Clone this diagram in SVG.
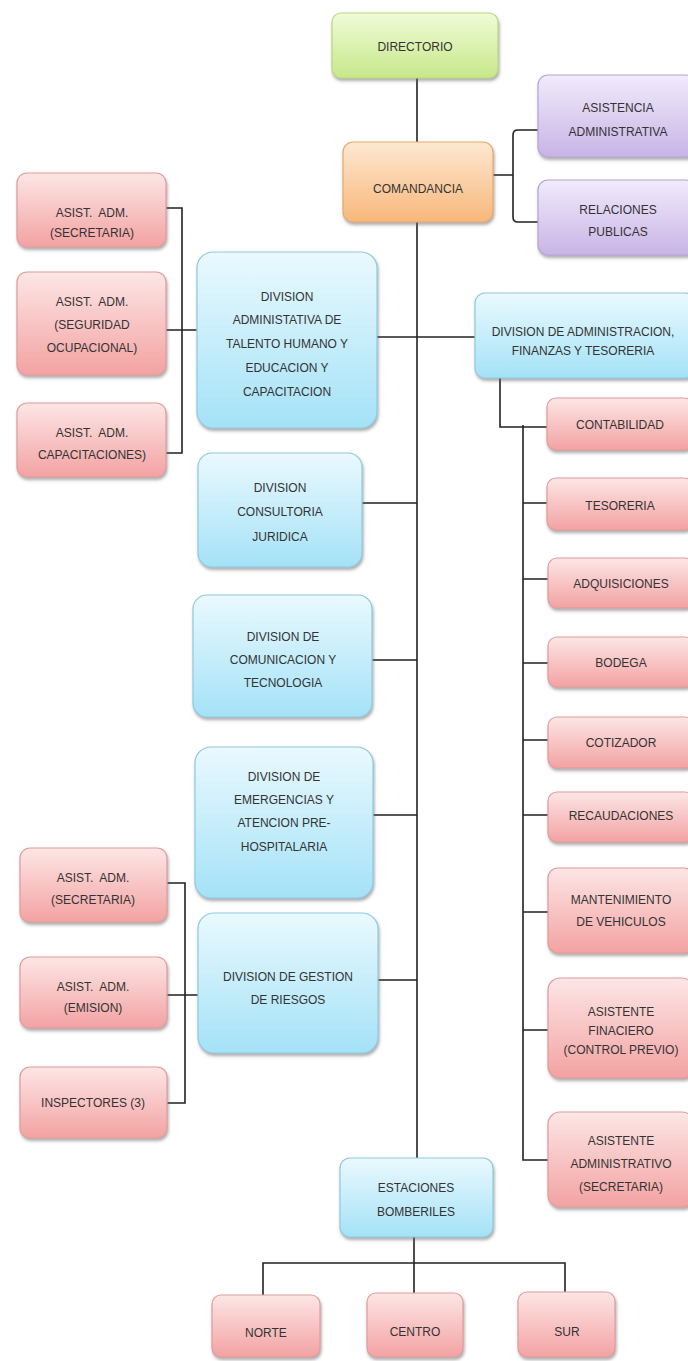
<svg xmlns="http://www.w3.org/2000/svg" width="688" height="1361" viewBox="0 0 688 1361">
<defs>
<linearGradient id="gGreen" x1="0" y1="0" x2="0" y2="1"><stop offset="0" stop-color="#f1fbd8"/><stop offset="1" stop-color="#c6e88a"/></linearGradient>
<linearGradient id="gOrange" x1="0" y1="0" x2="0" y2="1"><stop offset="0" stop-color="#fde8d2"/><stop offset="1" stop-color="#f8b77a"/></linearGradient>
<linearGradient id="gPurple" x1="0" y1="0" x2="0" y2="1"><stop offset="0" stop-color="#f1ebfb"/><stop offset="1" stop-color="#c8b4e6"/></linearGradient>
<linearGradient id="gBlue" x1="0" y1="0" x2="0" y2="1"><stop offset="0" stop-color="#eaf9fe"/><stop offset="1" stop-color="#a4e2f7"/></linearGradient>
<linearGradient id="gPink" x1="0" y1="0" x2="0" y2="1"><stop offset="0" stop-color="#fde6e6"/><stop offset="1" stop-color="#f3a2a2"/></linearGradient>
<filter id="sh" x="-10%" y="-10%" width="125%" height="130%"><feDropShadow dx="1" dy="2.5" stdDeviation="1.5" flood-color="#666" flood-opacity="0.55"/></filter>
</defs>
<style>
.b{filter:url(#sh);stroke-width:1.2}
.green{fill:url(#gGreen);stroke:#b8d87c}
.orange{fill:url(#gOrange);stroke:#e6a970}
.purple{fill:url(#gPurple);stroke:#b6a4d6}
.blue{fill:url(#gBlue);stroke:#8fcadf}
.pink{fill:url(#gPink);stroke:#e29c9c}
text{font-family:"Liberation Sans",Arial,sans-serif;font-size:12px;fill:#333;text-anchor:middle;dominant-baseline:central}
.c{fill:none;stroke:#222;stroke-width:1.6}
</style>
<rect width="688" height="1361" fill="#fff"/>
<g id="connectors" class="c">
<path d="M417 78V1158"/>
<path d="M493 175H508M538 130H518Q513 130 513 135V217Q513 222 518 222H538M513 175H508"/>
<path d="M166 208H182V453H166M166 330H197"/>
<path d="M377 337H475"/>
<path d="M500 378V427H547M523 425V1160H548"/>
<path d="M523 503H547M523 579H548M523 663H548M523 740H548M523 815H548M523 912H548M523 1030H548"/>
<path d="M362 503H417M372 660H417M373 815H417M378 980H417"/>
<path d="M167 883H185V1103H167M167 995H198"/>
<path d="M414 1237V1293M263 1295V1263H565V1292"/>
</g>
<g id="directorio"><rect class="b green" x="332" y="13" width="166" height="65" rx="9"/><text x="415" y="47">DIRECTORIO</text></g>
<g id="comandancia"><rect class="b orange" x="343" y="142" width="150" height="80" rx="10"/><text x="418" y="189">COMANDANCIA</text></g>
<g id="asistencia-administrativa"><rect class="b purple" x="538" y="75" width="158" height="82" rx="10"/><text x="618" y="108">ASISTENCIA</text><text x="618" y="132">ADMINISTRATIVA</text></g>
<g id="relaciones-publicas"><rect class="b purple" x="538" y="180" width="158" height="75" rx="10"/><text x="618" y="210">RELACIONES</text><text x="618" y="232">PUBLICAS</text></g>
<g id="asist-secretaria-1"><rect class="b pink" x="17" y="173" width="149" height="74" rx="10"/><text x="92" y="213">ASIST.&#160; ADM.</text><text x="92" y="233">(SECRETARIA)</text></g>
<g id="asist-seguridad"><rect class="b pink" x="17" y="272" width="149" height="103" rx="10"/><text x="92" y="302">ASIST.&#160; ADM.</text><text x="92" y="325">(SEGURIDAD</text><text x="92" y="348">OCUPACIONAL)</text></g>
<g id="asist-capacitaciones"><rect class="b pink" x="17" y="403" width="149" height="74" rx="10"/><text x="92" y="433">ASIST.&#160; ADM.</text><text x="92" y="455">CAPACITACIONES)</text></g>
<g id="div-talento"><rect class="b blue" x="197" y="252" width="180" height="176" rx="16"/><text x="287" y="297">DIVISION</text><text x="287" y="320">ADMINISTATIVA DE</text><text x="287" y="344">TALENTO HUMANO Y</text><text x="287" y="368">EDUCACION Y</text><text x="287" y="392">CAPACITACION</text></g>
<g id="div-finanzas"><rect class="b blue" x="475" y="293" width="220" height="85" rx="10"/><text x="583" y="332">DIVISION DE ADMINISTRACION,</text><text x="583" y="351">FINANZAS Y TESORERIA</text></g>
<g id="contabilidad"><rect class="b pink" x="547" y="398" width="146" height="52" rx="9"/><text x="620" y="425">CONTABILIDAD</text></g>
<g id="tesoreria"><rect class="b pink" x="547" y="478" width="146" height="52" rx="9"/><text x="620" y="506">TESORERIA</text></g>
<g id="adquisiciones"><rect class="b pink" x="548" y="558" width="146" height="50" rx="9"/><text x="621" y="584">ADQUISICIONES</text></g>
<g id="bodega"><rect class="b pink" x="548" y="637" width="146" height="50" rx="9"/><text x="621" y="663">BODEGA</text></g>
<g id="cotizador"><rect class="b pink" x="548" y="717" width="146" height="51" rx="9"/><text x="621" y="743">COTIZADOR</text></g>
<g id="recaudaciones"><rect class="b pink" x="548" y="792" width="146" height="50" rx="9"/><text x="621" y="816">RECAUDACIONES</text></g>
<g id="mantenimiento"><rect class="b pink" x="548" y="868" width="146" height="85" rx="10"/><text x="621" y="900">MANTENIMIENTO</text><text x="621" y="922">DE VEHICULOS</text></g>
<g id="asistente-financiero"><rect class="b pink" x="548" y="978" width="146" height="100" rx="12"/><text x="621" y="1012">ASISTENTE</text><text x="621" y="1031">FINACIERO</text><text x="621" y="1050">(CONTROL PREVIO)</text></g>
<g id="asistente-administrativo"><rect class="b pink" x="548" y="1112" width="146" height="95" rx="12"/><text x="621" y="1141">ASISTENTE</text><text x="621" y="1164">ADMINISTRATIVO</text><text x="621" y="1187">(SECRETARIA)</text></g>
<g id="div-juridica"><rect class="b blue" x="198" y="453" width="164" height="114" rx="14"/><text x="280" y="488">DIVISION</text><text x="280" y="512">CONSULTORIA</text><text x="280" y="537">JURIDICA</text></g>
<g id="div-comunicacion"><rect class="b blue" x="193" y="595" width="179" height="122" rx="14"/><text x="283" y="637">DIVISION DE</text><text x="283" y="660">COMUNICACION Y</text><text x="283" y="683">TECNOLOGIA</text></g>
<g id="div-emergencias"><rect class="b blue" x="195" y="747" width="178" height="151" rx="16"/><text x="284" y="777">DIVISION DE</text><text x="284" y="800">EMERGENCIAS Y</text><text x="284" y="823">ATENCION PRE-</text><text x="284" y="847">HOSPITALARIA</text></g>
<g id="div-riesgos"><rect class="b blue" x="198" y="913" width="180" height="140" rx="16"/><text x="288" y="977">DIVISION DE GESTION</text><text x="288" y="1000">DE RIESGOS</text></g>
<g id="asist-secretaria-2"><rect class="b pink" x="20" y="848" width="147" height="74" rx="10"/><text x="93" y="878">ASIST.&#160; ADM.</text><text x="93" y="900">(SECRETARIA)</text></g>
<g id="asist-emision"><rect class="b pink" x="20" y="957" width="147" height="71" rx="10"/><text x="93" y="987">ASIST.&#160; ADM.</text><text x="93" y="1008">(EMISION)</text></g>
<g id="inspectores"><rect class="b pink" x="20" y="1067" width="147" height="71" rx="10"/><text x="93" y="1103">INSPECTORES (3)</text></g>
<g id="estaciones"><rect class="b blue" x="340" y="1158" width="153" height="79" rx="10"/><text x="416" y="1188">ESTACIONES</text><text x="416" y="1212">BOMBERILES</text></g>
<g id="norte"><rect class="b pink" x="212" y="1295" width="108" height="62" rx="9"/><text x="266" y="1333">NORTE</text></g>
<g id="centro"><rect class="b pink" x="367" y="1293" width="96" height="64" rx="9"/><text x="415" y="1332">CENTRO</text></g>
<g id="sur"><rect class="b pink" x="518" y="1292" width="97" height="65" rx="9"/><text x="567" y="1332">SUR</text></g>
</svg>
